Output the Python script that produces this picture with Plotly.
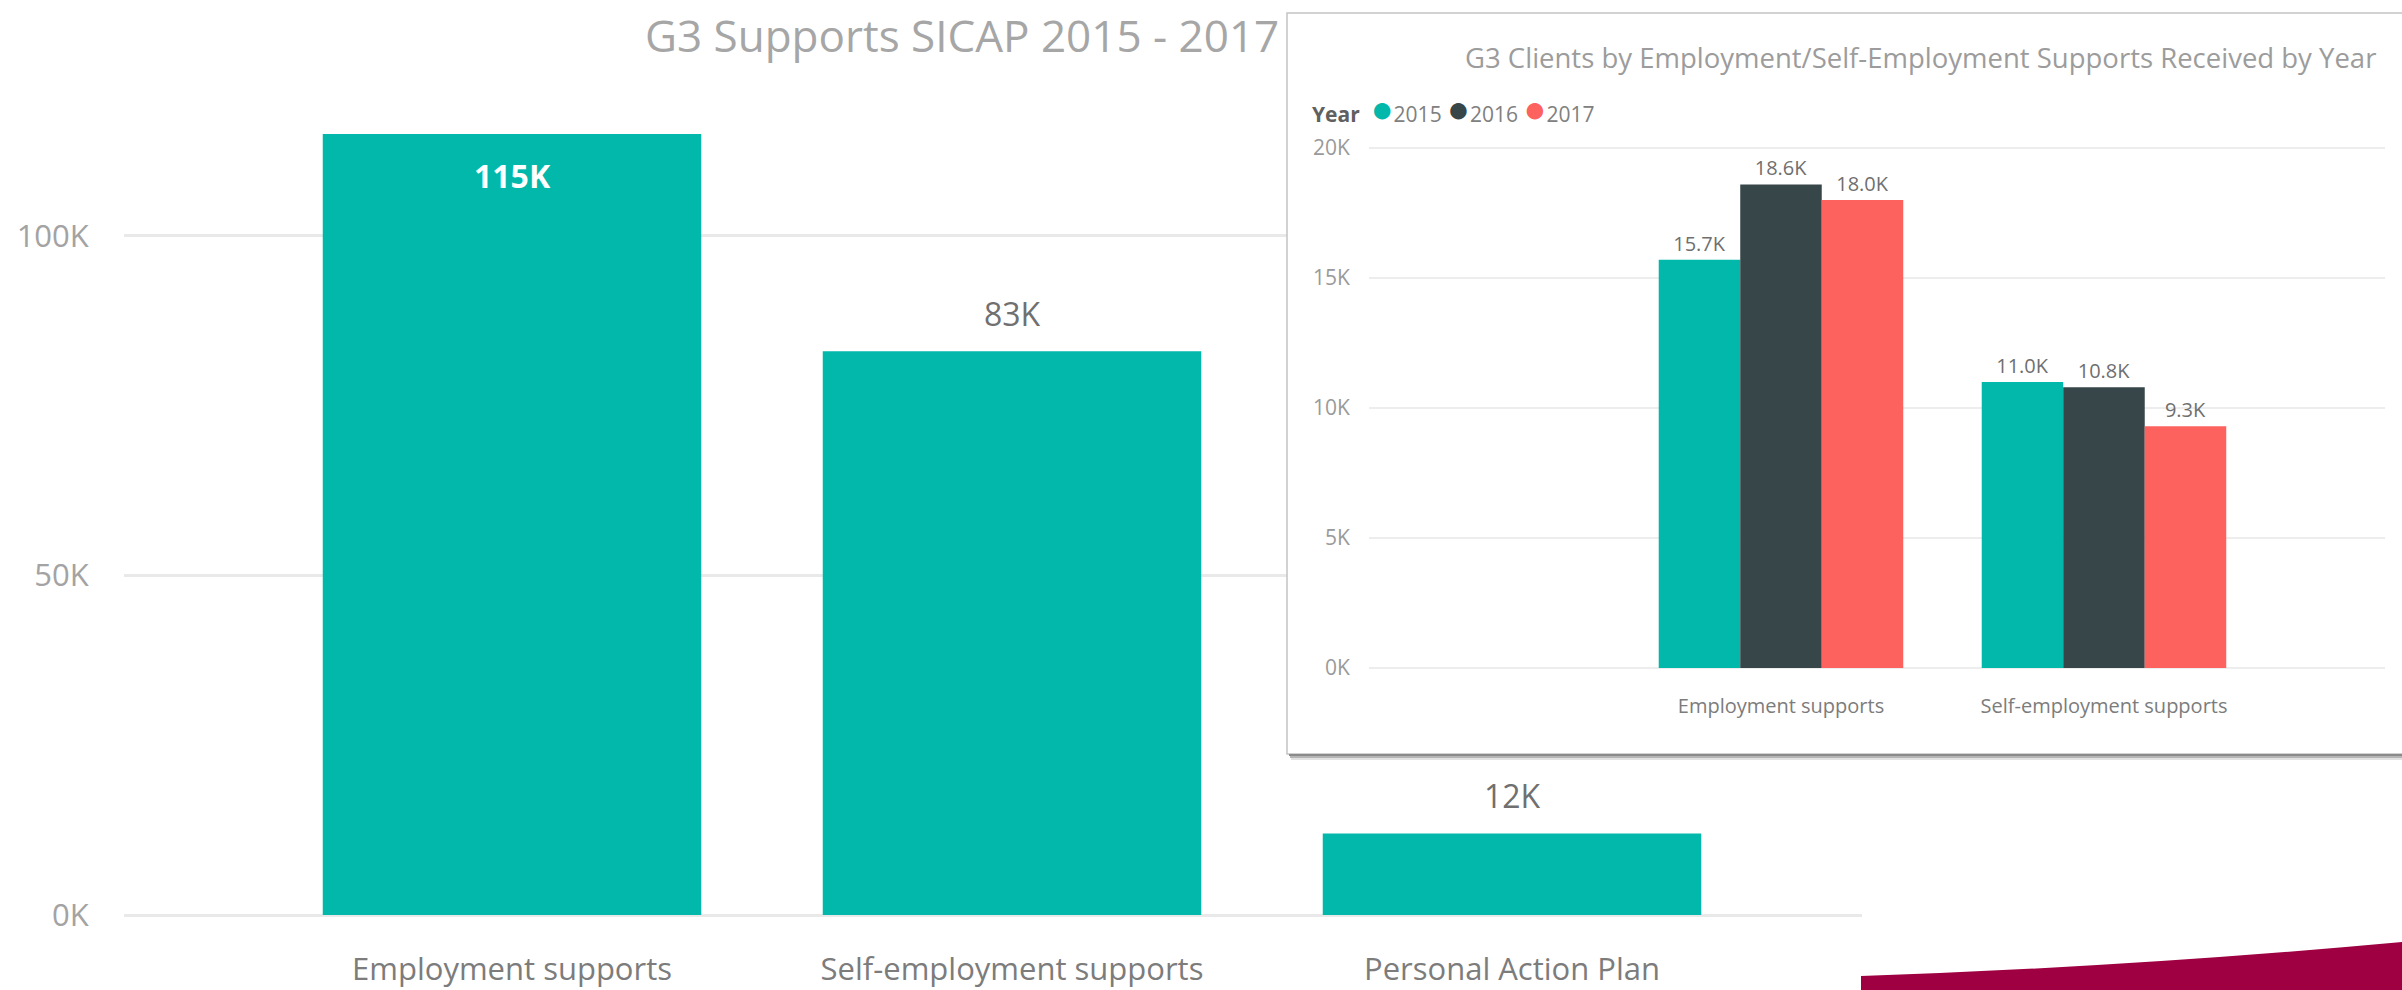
import plotly.graph_objects as go

W, H = 2402, 990

# Total supports delivered, 2015 - 2017
support_types = ["Employment supports", "Self-employment supports", "Personal Action Plan"]
support_totals = [115000, 83000, 12000]

# Clients by employment / self-employment support and year
client_types = ["Employment supports", "Self-employment supports"]
years = ["2015", "2016", "2017"]
clients_2015 = [15700, 11000]
clients_2016 = [18600, 10800]
clients_2017 = [18000, 9300]
year_colors = ["#01B8AA", "#374649", "#FD625E"]

main_tick_vals = [0, 50000, 100000]
main_tick_text = ["0K", "50K", "100K"]
inset_tick_vals = [0, 5000, 10000, 15000, 20000]
inset_tick_text = ["0K", "5K", "10K", "15K", "20K"]

FONT = "Open Sans"
TEAL = "#01B8AA"


def px_x(px):
    return px / W


def px_y(py):
    return 1 - py / H


def k_label(v, digits):
    return f"{v / 1000:.{digits}f}K"


fig = go.Figure()

# Main chart
fig.add_trace(go.Bar(
    x=support_types, y=support_totals, marker=dict(color=TEAL, line_width=0),
    xaxis="x", yaxis="y", hoverinfo="skip", showlegend=False,
))

# White card behind the inset chart
fig.add_trace(go.Bar(
    x=[0.5], y=[1], width=[1], marker=dict(color="white", line_width=0),
    xaxis="x2", yaxis="y2", hoverinfo="skip", showlegend=False,
))

# Inset grouped chart
for year, vals, color in zip(years, [clients_2015, clients_2016, clients_2017], year_colors):
    fig.add_trace(go.Bar(
        name=year, x=client_types, y=vals,
        marker=dict(color=color, line_width=0),
        text=[k_label(v, 1) for v in vals], textposition="outside",
        textfont=dict(family=FONT, size=20, color="#6f6f6f"),
        constraintext="none", cliponaxis=False,
        xaxis="x3", yaxis="y3", hoverinfo="skip", showlegend=False,
    ))

annotations = []

# Main value labels
for cat, v in zip(support_types, support_totals):
    inside = v == max(support_totals)
    annotations.append(dict(
        x=cat, y=v, xref="x", yref="y", text=k_label(v, 0), showarrow=False,
        yanchor="middle", yshift=-42 if inside else 38,
        font=dict(family=FONT, size=32, color="white" if inside else "#707070",
                  weight="bold" if inside else "normal"),
    ))

# Titles
annotations.append(dict(
    x=px_x(962), y=px_y(35), xref="paper", yref="paper", showarrow=False,
    text="G3 Supports SICAP 2015 - 2017", xanchor="center", yanchor="middle",
    font=dict(family=FONT, size=44, color="#a6a6a6"),
))
annotations.append(dict(
    x=px_x(1920), y=px_y(57), xref="paper", yref="paper", showarrow=False,
    text="G3 Clients by Employment/Self-Employment Supports Received by Year",
    xanchor="center", yanchor="middle",
    font=dict(family=FONT, size=27.5, color="#9c9c9c"),
))

# Inset legend
legend_parts = ["<span style='color:#606060'><b>Year</b></span>  "]
for year, color in zip(years, year_colors):
    legend_parts.append(f"<span style='color:{color};font-size:38px'>●</span>{year} ")
annotations.append(dict(
    x=px_x(1310), y=px_y(107), xref="paper", yref="paper", showarrow=False,
    text="".join(legend_parts), xanchor="left", yanchor="middle",
    font=dict(family=FONT, size=21, color="#808080"),
))


def rect(x0, y0, x1, y1, **kw):
    return dict(type="rect", xref="paper", yref="paper",
                x0=px_x(x0), x1=px_x(x1), y0=px_y(y1), y1=px_y(y0), **kw)


shapes = [
    # card border and drop shadow
    rect(1287, 13, 2420, 754, line=dict(color="#c4c4c4", width=1.5), layer="above"),
    rect(1289, 754, 2420, 756, fillcolor="#8a8a8a", line_width=0, layer="above"),
    rect(1290, 756, 2420, 758, fillcolor="#b5b5b5", line_width=0, layer="above"),
    rect(1291, 758, 2420, 760, fillcolor="#e2e2e2", line_width=0, layer="above"),
]

# Corner accent band
p0, c, p2 = (1861, 976), (2130, 967), (2402, 942)
path = (f"M {px_x(1861)},{px_y(H)} L {px_x(p0[0])},{px_y(p0[1])} "
        f"Q {px_x(c[0])},{px_y(c[1])} {px_x(p2[0])},{px_y(p2[1])} "
        f"L {px_x(W)},{px_y(H)} Z")
shapes.append(dict(type="path", xref="paper", yref="paper", path=path,
                   fillcolor="#9E0041", line_width=0, layer="above"))

fig.update_layout(
    width=W, height=H, autosize=False,
    margin=dict(l=0, r=0, t=0, b=0, pad=0, autoexpand=False),
    paper_bgcolor="white", plot_bgcolor="white",
    barmode="group", bargap=0.243, bargroupgap=0,
    font=dict(family=FONT),
    showlegend=False,
    annotations=annotations,
    shapes=shapes,
    xaxis=dict(
        domain=[px_x(124), px_x(1862)], type="category", range=[-0.776, 2.7],
        showgrid=False, showline=False, zeroline=False, automargin=False,
        ticks="outside", ticklen=27, tickcolor="rgba(0,0,0,0)",
        tickfont=dict(family=FONT, size=31, color="#7c7c7c"), fixedrange=True,
    ),
    yaxis=dict(
        domain=[px_y(915), px_y(66)], range=[0, 125000],
        tickvals=main_tick_vals, ticktext=main_tick_text,
        showgrid=True, gridcolor="#e9e9e9", gridwidth=2.5,
        zeroline=True, zerolinecolor="#e9e9e9", zerolinewidth=2.5, showline=False,
        automargin=False,
        ticks="outside", ticklen=28, tickcolor="rgba(0,0,0,0)",
        tickfont=dict(family=FONT, size=31, color="#a3a3a3"), fixedrange=True,
    ),
    xaxis2=dict(domain=[px_x(1287), 1.0], range=[0, 1], visible=False,
                fixedrange=True, automargin=False),
    yaxis2=dict(domain=[px_y(754), px_y(13)], range=[0, 1], visible=False,
                fixedrange=True, automargin=False),
    xaxis3=dict(
        domain=[px_x(1369), px_x(2385)], type="category", range=[-1.2755, 1.87],
        showgrid=False, showline=False, zeroline=False, automargin=False,
        ticks="outside", ticklen=20, tickcolor="rgba(0,0,0,0)",
        tickfont=dict(family=FONT, size=20, color="#7c7c7c"), fixedrange=True,
        anchor="y3",
    ),
    yaxis3=dict(
        domain=[px_y(668), px_y(122)], range=[0, 21000],
        tickvals=inset_tick_vals, ticktext=inset_tick_text,
        showgrid=True, gridcolor="#ededed", gridwidth=1.5,
        zeroline=True, zerolinecolor="#ededed", zerolinewidth=1.5, showline=False,
        automargin=False,
        ticks="outside", ticklen=14, tickcolor="rgba(0,0,0,0)",
        tickfont=dict(family=FONT, size=21, color="#9a9a9a"), fixedrange=True,
        anchor="x3",
    ),
)

fig.write_html("out.html", config={"displayModeBar": False})
